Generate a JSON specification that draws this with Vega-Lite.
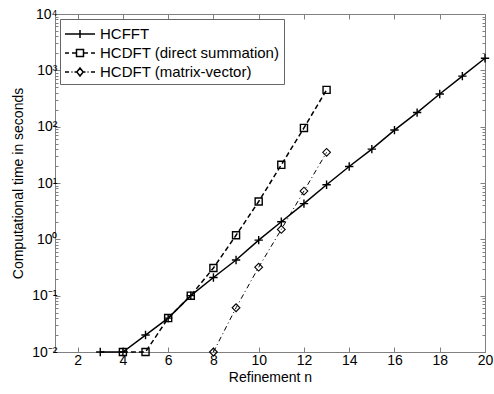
{
  "$schema": "https://vega.github.io/schema/vega-lite/v6.json",
  "width": 430,
  "height": 338,
  "autosize": "none",
  "padding": {"left": 55, "top": 14, "right": 10, "bottom": 42},
  "background": "white",
  "config": {
    "font": "Liberation Sans",
    "view": {"stroke": "#808080", "strokeWidth": 1},
    "axis": {
      "labelFont": "Liberation Sans",
      "titleFont": "Liberation Sans",
      "labelFontSize": 14,
      "titleFontSize": 14,
      "titleFontWeight": "normal",
      "labelColor": "black",
      "titleColor": "black",
      "domain": false,
      "tickColor": "#808080",
      "grid": false
    }
  },
  "data": {
    "values": [
      {"n": 3, "t": 0.01, "series": "HCFFT"},
      {"n": 4, "t": 0.01, "series": "HCFFT"},
      {"n": 5, "t": 0.02, "series": "HCFFT"},
      {"n": 6, "t": 0.04, "series": "HCFFT"},
      {"n": 7, "t": 0.1, "series": "HCFFT"},
      {"n": 8, "t": 0.21, "series": "HCFFT"},
      {"n": 9, "t": 0.43, "series": "HCFFT"},
      {"n": 10, "t": 0.97, "series": "HCFFT"},
      {"n": 11, "t": 2.05, "series": "HCFFT"},
      {"n": 12, "t": 4.3, "series": "HCFFT"},
      {"n": 13, "t": 9.3, "series": "HCFFT"},
      {"n": 14, "t": 19.6, "series": "HCFFT"},
      {"n": 15, "t": 40, "series": "HCFFT"},
      {"n": 16, "t": 87, "series": "HCFFT"},
      {"n": 17, "t": 178, "series": "HCFFT"},
      {"n": 18, "t": 380, "series": "HCFFT"},
      {"n": 19, "t": 790, "series": "HCFFT"},
      {"n": 20, "t": 1640, "series": "HCFFT"},
      {"n": 4, "t": 0.01, "series": "HCDFT (direct summation)"},
      {"n": 5, "t": 0.01, "series": "HCDFT (direct summation)"},
      {"n": 6, "t": 0.04, "series": "HCDFT (direct summation)"},
      {"n": 7, "t": 0.1, "series": "HCDFT (direct summation)"},
      {"n": 8, "t": 0.31, "series": "HCDFT (direct summation)"},
      {"n": 9, "t": 1.18, "series": "HCDFT (direct summation)"},
      {"n": 10, "t": 4.7, "series": "HCDFT (direct summation)"},
      {"n": 11, "t": 21, "series": "HCDFT (direct summation)"},
      {"n": 12, "t": 95, "series": "HCDFT (direct summation)"},
      {"n": 13, "t": 450, "series": "HCDFT (direct summation)"},
      {"n": 8, "t": 0.01, "series": "HCDFT (matrix-vector)"},
      {"n": 9, "t": 0.061, "series": "HCDFT (matrix-vector)"},
      {"n": 10, "t": 0.32, "series": "HCDFT (matrix-vector)"},
      {"n": 11, "t": 1.5, "series": "HCDFT (matrix-vector)"},
      {"n": 12, "t": 7.2, "series": "HCDFT (matrix-vector)"},
      {"n": 13, "t": 35, "series": "HCDFT (matrix-vector)"}
    ]
  },
  "resolve": {"axis": {"x": "independent", "y": "independent"}},
  "layer": [
    {
      "transform": [{"filter": "datum.series === 'HCFFT'"}],
      "mark": {"type": "line", "color": "black", "strokeWidth": 1.5},
      "encoding": {
        "x": {
          "field": "n", "type": "quantitative",
          "scale": {"domain": [1, 20], "nice": false, "zero": false},
          "axis": {"title": "Refinement n", "values": [2, 4, 6, 8, 10, 12, 14, 16, 18, 20], "tickSize": -5, "labelPadding": 6, "titlePadding": 3, "labelFlush": false}
        },
        "y": {
          "field": "t", "type": "quantitative",
          "scale": {"type": "log", "domain": [0.01, 10000], "nice": false},
          "axis": {
            "title": "Computational time in seconds",
            "values": [0.01, 0.02, 0.03, 0.04, 0.05, 0.06, 0.07, 0.08, 0.09, 0.1, 0.2, 0.3, 0.4, 0.5, 0.6, 0.7, 0.8, 0.9, 1, 2, 3, 4, 5, 6, 7, 8, 9, 10, 20, 30, 40, 50, 60, 70, 80, 90, 100, 200, 300, 400, 500, 600, 700, 800, 900, 1000, 2000, 3000, 4000, 5000, 6000, 7000, 8000, 9000, 10000],
            "labelExpr": "abs(log(datum.value)/LN10 - round(log(datum.value)/LN10)) < 0.000001 ? '10' + ['⁻²','⁻¹','⁰','¹','²','³','⁴'][round(log(datum.value)/LN10) + 2] : ''",
            "tickSize": {"condition": {"test": "abs(log(datum.value)/LN10 - round(log(datum.value)/LN10)) < 0.000001", "value": -5}, "value": -3},
            "labelPadding": 3,
            "titlePadding": 6,
            "labelFlush": false
          }
        }
      }
    },
    {
      "transform": [{"filter": "datum.series === 'HCDFT (direct summation)'"}],
      "mark": {"type": "line", "color": "black", "strokeWidth": 1.5, "strokeDash": [5, 3]},
      "encoding": {
        "x": {"field": "n", "type": "quantitative", "axis": null},
        "y": {"field": "t", "type": "quantitative", "axis": null}
      }
    },
    {
      "transform": [{"filter": "datum.series === 'HCDFT (matrix-vector)'"}],
      "mark": {"type": "line", "color": "black", "strokeWidth": 1, "strokeDash": [5, 3, 1, 3]},
      "encoding": {
        "x": {"field": "n", "type": "quantitative", "axis": null},
        "y": {"field": "t", "type": "quantitative", "axis": null}
      }
    },
    {
      "transform": [{"filter": "datum.series === 'HCFFT'"}],
      "mark": {"type": "point", "filled": false, "stroke": "black", "strokeWidth": 1.4, "opacity": 1, "shape": "M-1,0L1,0M0,-1L0,1", "size": 70},
      "encoding": {
        "x": {"field": "n", "type": "quantitative", "axis": null},
        "y": {"field": "t", "type": "quantitative", "axis": null}
      }
    },
    {
      "transform": [{"filter": "datum.series === 'HCDFT (direct summation)'"}],
      "mark": {"type": "point", "filled": false, "stroke": "black", "strokeWidth": 1.4, "opacity": 1, "shape": "square", "size": 50},
      "encoding": {
        "x": {"field": "n", "type": "quantitative", "axis": null},
        "y": {"field": "t", "type": "quantitative", "axis": null}
      }
    },
    {
      "transform": [{"filter": "datum.series === 'HCDFT (matrix-vector)'"}],
      "mark": {"type": "point", "filled": false, "stroke": "black", "strokeWidth": 1.1, "opacity": 1, "shape": "diamond", "size": 60},
      "encoding": {
        "x": {"field": "n", "type": "quantitative", "axis": null},
        "y": {"field": "t", "type": "quantitative", "axis": null}
      }
    },
    {
      "mark": {"type": "point", "filled": false, "stroke": "black", "strokeWidth": 1.5, "opacity": 0},
      "encoding": {
        "x": {"field": "n", "type": "quantitative", "axis": {"orient": "top", "title": null, "labels": false, "values": [2, 4, 6, 8, 10, 12, 14, 16, 18, 20], "tickSize": -5}},
        "y": {
          "field": "t", "type": "quantitative",
          "axis": {
            "orient": "right", "title": null, "labels": false,
            "values": [0.01, 0.02, 0.03, 0.04, 0.05, 0.06, 0.07, 0.08, 0.09, 0.1, 0.2, 0.3, 0.4, 0.5, 0.6, 0.7, 0.8, 0.9, 1, 2, 3, 4, 5, 6, 7, 8, 9, 10, 20, 30, 40, 50, 60, 70, 80, 90, 100, 200, 300, 400, 500, 600, 700, 800, 900, 1000, 2000, 3000, 4000, 5000, 6000, 7000, 8000, 9000, 10000],
            "tickSize": {"condition": {"test": "abs(log(datum.value)/LN10 - round(log(datum.value)/LN10)) < 0.000001", "value": -5}, "value": -3}
          }
        },
        "shape": {
          "field": "series", "type": "nominal",
          "scale": {
            "domain": ["HCFFT", "HCDFT (direct summation)", "HCDFT (matrix-vector)"],
            "range": [
              "M-1.5,0L1.5,0M0,-0.4L0,0.4",
              "M-1.5,0L-1.1,0M-0.8,0L-0.35,0M0.35,0L0.8,0M1.1,0L1.5,0M-0.35,-0.35L0.35,-0.35L0.35,0.35L-0.35,0.35Z",
              "M-1.5,0L-1.1,0M-0.85,0L-0.75,0M-0.55,0L-0.32,0M0.32,0L0.55,0M0.75,0L0.85,0M1.1,0L1.5,0M0,-0.4L0.32,0L0,0.4L-0.32,0Z"
            ]
          },
          "legend": {
            "title": null,
            "orient": "top-left",
            "offset": 5,
            "padding": 4,
            "fillColor": "white",
            "strokeColor": "#666666",
            "labelFont": "Liberation Sans",
            "labelFontSize": 15,
            "labelColor": "black",
            "labelOffset": 9,
            "labelLimit": 400,
            "symbolSize": 400,
            "symbolOffset": 5,
            "symbolStrokeWidth": 1.5,
            "symbolStrokeColor": "black",
            "symbolFillColor": "transparent",
            "symbolOpacity": 1,
            "rowPadding": 0
          }
        }
      }
    }
  ]
}
